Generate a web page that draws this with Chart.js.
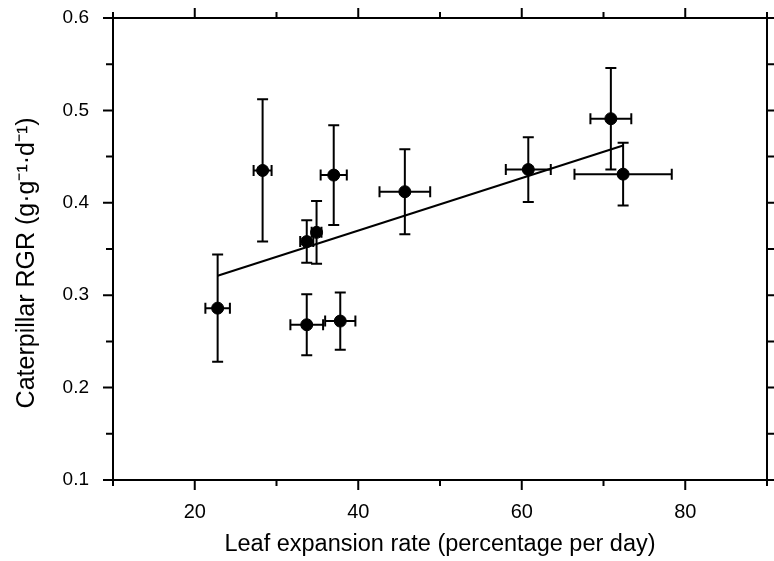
<!DOCTYPE html>
<html>
<head>
<meta charset="utf-8">
<script src="https://cdn.jsdelivr.net/npm/chart.js@4.4.1/dist/chart.umd.min.js"></script>
<style>
  html, body { margin: 0; padding: 0; background: #fff; }
  #wrap { width: 774px; height: 561px; }
</style>
</head>
<body>
<div id="wrap"><canvas id="rgrChart" width="774" height="561"></canvas></div>
<script>
// Données
const leafRate = [22.8, 28.3, 33.7, 34.9, 37.0, 33.7, 37.8, 45.7, 60.8, 70.9, 72.4];
const rgr      = [0.286, 0.435, 0.358, 0.368, 0.430, 0.268, 0.272, 0.412, 0.436, 0.491, 0.431];
const leafErr  = [1.5, 1.1, 0.8, 0.6, 1.6, 2.0, 1.85, 3.1, 2.75, 2.5, 5.95];
const rgrErr   = [0.058, 0.077, 0.023, 0.034, 0.054, 0.033, 0.031, 0.046, 0.035, 0.055, 0.034];

// Droite de régression
const fitX = [22.8, 72.4];
const fitY = [0.321, 0.462];

// Graduations
const xLabels = [20, 40, 60, 80];
const xMinor  = [10, 30, 50, 70, 90];
const yLabels = [0.1, 0.2, 0.3, 0.4, 0.5, 0.6];
const yMinor  = [0.15, 0.25, 0.35, 0.45, 0.55];

const FONT = "'Liberation Sans', Arial, Helvetica, sans-serif";

// Barres d'erreur (x et y) dessinées avant les points
const errorBars = {
    id: 'errorBars',
    beforeDatasetsDraw(chart) {
        const { ctx, scales: { x, y } } = chart;
        const cap = 5.5;
        ctx.save();
        ctx.strokeStyle = '#000';
        ctx.lineWidth = 2;
        leafRate.forEach((lx, i) => {
            const px = x.getPixelForValue(lx);
            const py = y.getPixelForValue(rgr[i]);
            const top = y.getPixelForValue(rgr[i] + rgrErr[i]);
            const bot = y.getPixelForValue(rgr[i] - rgrErr[i]);
            const lft = x.getPixelForValue(lx - leafErr[i]);
            const rgt = x.getPixelForValue(lx + leafErr[i]);
            ctx.beginPath();
            ctx.moveTo(px, top); ctx.lineTo(px, bot);
            ctx.moveTo(px - cap, top); ctx.lineTo(px + cap, top);
            ctx.moveTo(px - cap, bot); ctx.lineTo(px + cap, bot);
            ctx.moveTo(lft, py); ctx.lineTo(rgt, py);
            ctx.moveTo(lft, py - cap); ctx.lineTo(lft, py + cap);
            ctx.moveTo(rgt, py - cap); ctx.lineTo(rgt, py + cap);
            ctx.stroke();
        });
        ctx.restore();
    }
};

// Petites graduations extérieures sur les quatre côtés du cadre
const frameTicks = {
    id: 'frameTicks',
    afterDraw(chart) {
        const { ctx, chartArea: a, scales: { x, y } } = chart;
        ctx.save();
        ctx.strokeStyle = '#000';
        ctx.lineWidth = 2;
        ctx.beginPath();
        const xt = (v, len) => {
            const p = x.getPixelForValue(v);
            ctx.moveTo(p, a.bottom); ctx.lineTo(p, a.bottom + len);
            ctx.moveTo(p, a.top); ctx.lineTo(p, a.top - len);
        };
        const yt = (v, len) => {
            const p = y.getPixelForValue(v);
            ctx.moveTo(a.left, p); ctx.lineTo(a.left - len, p);
            ctx.moveTo(a.right, p); ctx.lineTo(a.right + len, p);
        };
        xLabels.forEach(v => xt(v, 10));
        xMinor.forEach(v => xt(v, 6));
        yLabels.forEach(v => yt(v, 10));
        yMinor.forEach(v => yt(v, 7));
        ctx.stroke();
        ctx.restore();
    }
};

const border = { display: true, color: '#000', width: 2 };

new Chart(document.getElementById('rgrChart'), {
    data: {
        datasets: [{
            type: 'scatter',
            data: leafRate.map((v, i) => ({ x: v, y: rgr[i] })),
            backgroundColor: '#000',
            borderColor: '#000',
            pointRadius: 6,
            pointHoverRadius: 6
        }, {
            type: 'line',
            data: fitX.map((v, i) => ({ x: v, y: fitY[i] })),
            borderColor: '#000',
            borderWidth: 2,
            pointRadius: 0,
            fill: false
        }]
    },
    options: {
        responsive: false,
        animation: false,
        layout: { padding: 0 },
        plugins: {
            legend: { display: false },
            tooltip: { enabled: false }
        },
        scales: {
            x: {
                type: 'linear',
                position: 'bottom',
                min: 10, max: 90,
                grid: { display: false },
                border: border,
                afterBuildTicks: s => { s.ticks = xLabels.map(v => ({ value: v })); },
                afterFit: s => { s.height = 81; },
                ticks: {
                    color: '#000',
                    padding: 12,
                    font: { family: FONT, size: 20 }
                },
                title: {
                    display: true,
                    text: 'Leaf expansion rate (percentage per day)',
                    color: '#000',
                    padding: { top: 0, bottom: 2 },
                    font: { family: FONT, size: 23.5 }
                }
            },
            x2: {
                type: 'linear',
                position: 'top',
                min: 10, max: 90,
                grid: { display: false },
                border: border,
                ticks: { display: false },
                afterFit: s => { s.height = 18; }
            },
            y: {
                type: 'linear',
                position: 'left',
                min: 0.1, max: 0.6,
                grid: { display: false, tickLength: 24 },
                border: border,
                afterBuildTicks: s => { s.ticks = yLabels.map(v => ({ value: v })); },
                afterFit: s => { s.width = 113; },
                ticks: {
                    color: '#000',
                    padding: 0,
                    font: { family: FONT, size: 19 },
                    callback: v => v.toFixed(1)
                },
                title: {
                    display: true,
                    text: 'Caterpillar RGR (g·g⁻¹·d⁻¹)    ',
                    color: '#000',
                    padding: { top: 12, bottom: 0 },
                    font: { family: FONT, size: 25 }
                }
            },
            y2: {
                type: 'linear',
                position: 'right',
                min: 0.1, max: 0.6,
                grid: { display: false },
                border: border,
                ticks: { display: false },
                afterFit: s => { s.width = 5; }
            }
        }
    },
    plugins: [errorBars, frameTicks]
});
</script>
</body>
</html>
